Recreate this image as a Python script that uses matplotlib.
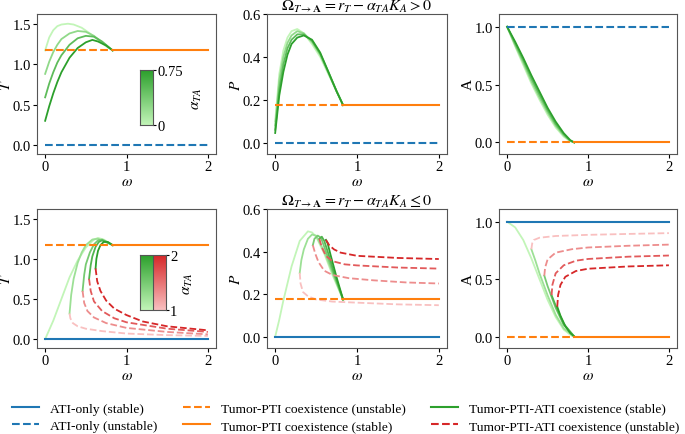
import numpy as np
import matplotlib
matplotlib.use("Agg")
import matplotlib.pyplot as plt
from matplotlib.colors import LinearSegmentedColormap
from matplotlib.lines import Line2D

plt.rcParams['font.family'] = ['Liberation Serif', 'DejaVu Serif']
plt.rcParams['mathtext.fontset'] = 'stix'
plt.rcParams['font.size'] = 10.5

# ---- data ----
w_switch = 0.83          # where Tumor-PTI becomes stable
T_pti, P_pti, A_pti = 1.17, 0.175, 0.0
T_ati, P_ati, A_ati = 0.0, 0.0, 1.0

# top row: alpha_TA = 0, 0.25, 0.5, 0.75 (stable branches only)
alpha_top = [0, 0.25, 0.5, 0.75]
wT_top = [
    [0, 0.05, 0.1, 0.15, 0.2, 0.28, 0.35, 0.45, 0.55, 0.65, 0.75, 0.83],
    [0, 0.05, 0.1, 0.15, 0.2, 0.3, 0.4, 0.5, 0.6, 0.7, 0.83],
    [0, 0.05, 0.1, 0.15, 0.2, 0.3, 0.4, 0.5, 0.6, 0.7, 0.83],
    [0, 0.05, 0.1, 0.15, 0.2, 0.3, 0.4, 0.5, 0.58, 0.65, 0.75, 0.83],
]
T_top = [
    [1.17, 1.33, 1.42, 1.47, 1.49, 1.50, 1.49, 1.45, 1.38, 1.30, 1.22, 1.17],
    [0.88, 1.03, 1.15, 1.24, 1.31, 1.38, 1.41, 1.40, 1.35, 1.27, 1.17],
    [0.59, 0.76, 0.90, 1.02, 1.11, 1.24, 1.32, 1.35, 1.34, 1.28, 1.17],
    [0.30, 0.48, 0.64, 0.78, 0.90, 1.08, 1.20, 1.27, 1.30, 1.28, 1.23, 1.17],
]
wP_top = [0, 0.05, 0.1, 0.15, 0.2, 0.27, 0.35, 0.45, 0.55, 0.65, 0.75, 0.83]
P_top = [
    [0.10, 0.32, 0.43, 0.49, 0.52, 0.530, 0.51, 0.46, 0.40, 0.32, 0.24, 0.175],
    [0.08, 0.29, 0.40, 0.465, 0.50, 0.520, 0.51, 0.47, 0.41, 0.325, 0.24, 0.175],
    [0.06, 0.25, 0.365, 0.44, 0.48, 0.505, 0.505, 0.475, 0.415, 0.33, 0.24, 0.175],
    [0.045, 0.22, 0.33, 0.41, 0.46, 0.49, 0.50, 0.48, 0.42, 0.33, 0.24, 0.175],
]
wA_top = [0, 0.1, 0.2, 0.3, 0.4, 0.5, 0.6, 0.7, 0.78, 0.83]
A_top = [
    [1.0, 0.83, 0.67, 0.51, 0.37, 0.24, 0.13, 0.05, 0.01, 0.0],
    [1.0, 0.84, 0.69, 0.53, 0.39, 0.26, 0.145, 0.06, 0.013, 0.0],
    [1.0, 0.855, 0.71, 0.555, 0.415, 0.28, 0.16, 0.07, 0.016, 0.0],
    [1.0, 0.87, 0.73, 0.58, 0.44, 0.30, 0.18, 0.08, 0.02, 0.0],
]

# bottom row: alpha_TA = 1, 1.25, 1.5, 1.75, 2
alpha_bot = [1, 1.25, 1.5, 1.75, 2]
# stable (green) branches
wT_gs = [
    [0, 0.1, 0.2, 0.3, 0.4, 0.5, 0.6, 0.65, 0.72, 0.83],
    [0.3, 0.32, 0.35, 0.4, 0.45, 0.5, 0.58, 0.65, 0.72, 0.83],
    [0.46, 0.48, 0.5, 0.55, 0.6, 0.65, 0.7, 0.76, 0.83],
    [0.54, 0.56, 0.58, 0.62, 0.66, 0.7, 0.75, 0.83],
    [0.62, 0.63, 0.65, 0.68, 0.72, 0.77, 0.83],
]
T_gs = [
    [0, 0.23, 0.50, 0.77, 0.98, 1.14, 1.24, 1.26, 1.24, 1.17],
    [0.32, 0.55, 0.75, 0.95, 1.08, 1.17, 1.24, 1.25, 1.22, 1.17],
    [0.60, 0.80, 0.93, 1.08, 1.18, 1.23, 1.24, 1.21, 1.17],
    [0.75, 0.92, 1.03, 1.15, 1.21, 1.23, 1.21, 1.17],
    [0.88, 1.00, 1.10, 1.17, 1.21, 1.21, 1.17],
]
wP_gs = [
    [0, 0.05, 0.1, 0.2, 0.3, 0.4, 0.45, 0.5, 0.6, 0.7, 0.83],
    [0.3, 0.32, 0.35, 0.4, 0.45, 0.5, 0.6, 0.7, 0.83],
    [0.46, 0.48, 0.52, 0.56, 0.62, 0.7, 0.83],
    [0.54, 0.57, 0.6, 0.65, 0.72, 0.83],
    [0.62, 0.64, 0.68, 0.75, 0.83],
]
P_gs = [
    [0, 0.08, 0.17, 0.33, 0.45, 0.495, 0.49, 0.47, 0.39, 0.29, 0.175],
    [0.30, 0.36, 0.41, 0.46, 0.48, 0.475, 0.40, 0.30, 0.175],
    [0.43, 0.46, 0.475, 0.465, 0.40, 0.31, 0.175],
    [0.46, 0.47, 0.45, 0.39, 0.30, 0.175],
    [0.455, 0.44, 0.38, 0.28, 0.175],
]
wA_gs = [
    [0, 0.1, 0.2, 0.3, 0.4, 0.5, 0.6, 0.7, 0.8, 0.83],
    [0.3, 0.35, 0.4, 0.5, 0.6, 0.7, 0.83],
    [0.46, 0.5, 0.6, 0.7, 0.83],
    [0.55, 0.6, 0.7, 0.83],
    [0.62, 0.66, 0.72, 0.78, 0.83],
]
A_gs = [
    [1.0, 0.95, 0.84, 0.68, 0.50, 0.32, 0.17, 0.06, 0.005, 0.0],
    [0.76, 0.66, 0.55, 0.36, 0.19, 0.07, 0.0],
    [0.53, 0.44, 0.25, 0.10, 0.0],
    [0.36, 0.27, 0.11, 0.0],
    [0.26, 0.18, 0.09, 0.03, 0.0],
]
# unstable (red) branches, alpha_TA = 1.25 .. 2
wT_ru = [
    [0.3, 0.31, 0.34, 0.4, 0.5, 0.7, 1.0, 1.5, 2.0],
    [0.46, 0.48, 0.52, 0.6, 0.75, 1.0, 1.5, 2.0],
    [0.54, 0.56, 0.6, 0.7, 0.85, 1.0, 1.5, 2.0],
    [0.62, 0.64, 0.68, 0.75, 0.85, 1.0, 1.2, 1.5, 2.0],
]
T_ru = [
    [0.32, 0.26, 0.20, 0.16, 0.13, 0.10, 0.07, 0.05, 0.04],
    [0.60, 0.45, 0.35, 0.27, 0.20, 0.14, 0.09, 0.06],
    [0.75, 0.60, 0.47, 0.35, 0.26, 0.21, 0.13, 0.09],
    [0.88, 0.72, 0.60, 0.48, 0.38, 0.30, 0.22, 0.16, 0.11],
]
wP_ru = [
    [0.3, 0.31, 0.34, 0.4, 0.5, 0.7, 1.0, 1.5, 2.0],
    [0.46, 0.49, 0.53, 0.6, 0.7, 0.9, 1.2, 1.6, 2.0],
    [0.54, 0.57, 0.62, 0.7, 0.85, 1.0, 1.5, 2.0],
    [0.62, 0.66, 0.72, 0.8, 1.0, 1.5, 2.0],
]
P_ru = [
    [0.30, 0.25, 0.21, 0.19, 0.175, 0.165, 0.16, 0.152, 0.148],
    [0.43, 0.39, 0.35, 0.31, 0.29, 0.275, 0.265, 0.255, 0.25],
    [0.46, 0.42, 0.38, 0.355, 0.34, 0.335, 0.325, 0.32],
    [0.455, 0.43, 0.41, 0.395, 0.38, 0.37, 0.365],
]
wA_ru = [
    [0.3, 0.31, 0.33, 0.4, 0.6, 1.0, 1.5, 2.0],
    [0.46, 0.47, 0.5, 0.6, 0.8, 1.0, 1.5, 2.0],
    [0.55, 0.56, 0.6, 0.7, 0.85, 1.0, 1.5, 2.0],
    [0.62, 0.63, 0.66, 0.72, 0.85, 1.0, 1.5, 2.0],
]
A_ru = [
    [0.76, 0.81, 0.84, 0.86, 0.875, 0.885, 0.893, 0.90],
    [0.53, 0.60, 0.67, 0.73, 0.76, 0.775, 0.79, 0.80],
    [0.36, 0.45, 0.55, 0.62, 0.66, 0.675, 0.695, 0.705],
    [0.26, 0.36, 0.45, 0.52, 0.57, 0.59, 0.61, 0.62],
]

blue = '#1f77b4'
orange = '#ff7f0e'
greens = LinearSegmentedColormap.from_list('g', ['#c2f5b8', '#2ca02c'])
reds = LinearSegmentedColormap.from_list('r', ['#f9c0c0', '#d62728'])


def base_lines(ax, pti, ati, ati_stable):
    ax.plot([0, w_switch], [pti, pti], '--', color=orange, lw=1.5)
    ax.plot([w_switch, 2], [pti, pti], '-', color=orange, lw=1.5)
    ax.plot([0, 2], [ati, ati], '-' if ati_stable else '--', color=blue, lw=1.5)


def style(ax, ylabel, ylim, yticks):
    ax.set_xlim(-0.1, 2.1)
    ax.set_ylim(*ylim)
    ax.set_xticks([0, 1, 2])
    ax.set_yticks(yticks)
    ax.set_xlabel(r'$\omega$', fontsize=11, labelpad=1)
    ax.set_ylabel(ylabel, fontsize=11)
    ax.yaxis.set_label_coords(-0.135, 0.5)
    for s in ax.spines.values():
        s.set_color('#555555')
    ax.tick_params(colors='black', length=3, pad=1.5)


fig = plt.figure(figsize=(6.85, 4.35), dpi=100)
W, H = 685.0, 435.0


def add_ax(x0, y0, x1, y1):
    return fig.add_axes([x0 / W, 1 - y1 / H, (x1 - x0) / W, (y1 - y0) / H])


lefts = [37, 267, 499]
rights = [216, 447, 677]
ax_top = [add_ax(lefts[i], 15, rights[i], 155) for i in range(3)]
ax_bot = [add_ax(lefts[i], 210, rights[i], 349) for i in range(3)]

# ---- top row ----
ntop = len(alpha_top)
for k in range(ntop):
    c = greens(k / (ntop - 1))
    ax_top[0].plot(wT_top[k], T_top[k], color=c, lw=1.3)
    ax_top[1].plot(wP_top, P_top[k], color=c, lw=1.3)
    ax_top[2].plot(wA_top, A_top[k], color=c, lw=1.3)
base_lines(ax_top[0], T_pti, T_ati, False)
base_lines(ax_top[1], P_pti, P_ati, False)
base_lines(ax_top[2], A_pti, A_ati, False)

# ---- bottom row ----
nbot = len(alpha_bot)
for k in range(nbot):
    c = greens(k / (nbot - 1))
    ax_bot[0].plot(wT_gs[k], T_gs[k], color=c, lw=1.3)
    ax_bot[1].plot(wP_gs[k], P_gs[k], color=c, lw=1.3)
    ax_bot[2].plot(wA_gs[k], A_gs[k], color=c, lw=1.3)
for k in range(nbot - 1):
    c = reds(k / (nbot - 2))
    ax_bot[0].plot(wT_ru[k], T_ru[k], '--', color=c, lw=1.3)
    ax_bot[1].plot(wP_ru[k], P_ru[k], '--', color=c, lw=1.3)
    ax_bot[2].plot(wA_ru[k], A_ru[k], '--', color=c, lw=1.3)
base_lines(ax_bot[0], T_pti, T_ati, True)
base_lines(ax_bot[1], P_pti, P_ati, True)
base_lines(ax_bot[2], A_pti, A_ati, True)

for row in (ax_top, ax_bot):
    style(row[0], r'$T$', (-0.11, 1.62), [0, 0.5, 1.0, 1.5])
    style(row[1], r'$P$', (-0.053, 0.6), [0, 0.2, 0.4, 0.6])
    style(row[2], 'A', (-0.1, 1.11), [0, 0.5, 1.0])

ax_top[1].set_title(r'$\Omega_{T\to\mathbf{A}} = r_T - \alpha_{TA}K_A > 0$', fontsize=11.5, pad=-1)
ax_bot[1].set_title(r'$\Omega_{T\to\mathbf{A}} = r_T - \alpha_{TA}K_A \leq 0$', fontsize=11.5, pad=-1)

# ---- colorbar insets ----
grad = np.linspace(0, 1, 256).reshape(-1, 1)
cb1 = add_ax(140, 71, 153, 126)
cb1.imshow(grad, cmap=greens, origin='lower', aspect='auto', extent=[0, 1, 0, 0.75])
cb1.set_xticks([])
cb1.yaxis.tick_right()
cb1.set_yticks([0, 0.75])
cb1.set_yticklabels(['0', '0.75'])
cb1.tick_params(length=2, pad=1)
cb1.yaxis.set_label_position('right')
cb1.set_ylabel(r'$\alpha_{TA}$', fontsize=11, labelpad=6)
for s in cb1.spines.values():
    s.set_color('#555555')

cb2 = add_ax(140, 256, 166, 311)
cb2.imshow(grad, cmap=greens, origin='lower', aspect='auto', extent=[0, 1, 1, 2])
cb2.imshow(grad, cmap=reds, origin='lower', aspect='auto', extent=[1, 2, 1, 2])
cb2.set_xlim(0, 2)
cb2.set_ylim(1, 2)
cb2.axvline(1, color='#555555', lw=0.8)
cb2.set_xticks([])
cb2.yaxis.tick_right()
cb2.set_yticks([1, 2])
cb2.tick_params(length=2, pad=1)
cb2.yaxis.set_label_position('right')
cb2.set_ylabel(r'$\alpha_{TA}$', fontsize=11, labelpad=3)
for s in cb2.spines.values():
    s.set_color('#555555')

# ---- legend ----
handles = [
    Line2D([], [], color=blue, ls='-', lw=1.5),
    Line2D([], [], color=blue, ls='--', lw=1.5),
    Line2D([], [], color=orange, ls='--', lw=1.5),
    Line2D([], [], color=orange, ls='-', lw=1.5),
    Line2D([], [], color='#2ca02c', ls='-', lw=1.5),
    Line2D([], [], color='#d62728', ls='--', lw=1.5),
]
labels = ['ATI-only (stable)', 'ATI-only (unstable)',
          'Tumor-PTI coexistence (unstable)', 'Tumor-PTI coexistence (stable)',
          'Tumor-PTI-ATI coexistence (stable)', 'Tumor-PTI-ATI coexistence (unstable)']
fig.legend(handles, labels, ncol=3, loc='center', bbox_to_anchor=(0.505, 1 - 418 / H),
           frameon=False, fontsize=9.7, columnspacing=1.9, handlelength=2.0,
           handletextpad=0.8, labelspacing=0.35, borderpad=0)

fig.savefig('out.png', dpi=100)
